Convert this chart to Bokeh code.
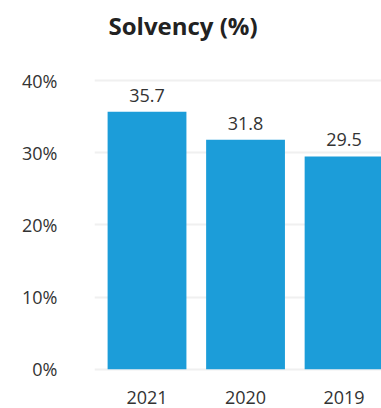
from bokeh.plotting import figure
from bokeh.models import Range1d, FixedTicker, ColumnDataSource, PrintfTickFormatter, LabelSet, Label
from bokeh.core.properties import value
from bokeh.embed import file_html
from bokeh.resources import INLINE

years = ["2021", "2020", "2019"]
solvency = [35.7, 31.8, 29.5]
y_ticks = [0, 10, 20, 30, 40]
title = "Solvency (%)"

FONT = "Open Sans"
TXT = "#333333"
BAR = "#1c9dd9"

idx = list(range(len(years)))
src = ColumnDataSource(dict(x=idx, y=solvency, lab=[f"{v:.1f}" for v in solvency]))

# frame extends to the top of the canvas so the title label (inside the frame) is not clipped
p = figure(width=381, height=408, output_backend="svg", toolbar_location=None,
           x_range=Range1d(-0.533, 2.38), y_range=Range1d(-0.3, 51.1),
           min_border_left=94, min_border_right=0, min_border_top=0, min_border_bottom=37)
p.outline_line_color = None
p.background_fill_color = "white"
p.border_fill_color = "white"

p.vbar(x="x", top="y", bottom=0, width=0.8, source=src, fill_color=BAR, line_color=None)
p.add_layout(LabelSet(x="x", y="y", text="lab", source=src, text_align="center",
                      text_baseline="alphabetic", y_offset=10, text_font=value(FONT),
                      text_font_size="18px", text_color=TXT))

p.add_layout(Label(x=14, x_units="screen", y=y_ticks[-1], y_offset=55, text=title,
                   text_font=FONT, text_font_size="24px", text_font_style="bold",
                   text_color="#222222", text_baseline="alphabetic", text_align="left"))

p.xaxis.ticker = FixedTicker(ticks=idx)
p.xaxis.major_label_overrides = {i: y for i, y in enumerate(years)}
p.yaxis.ticker = FixedTicker(ticks=y_ticks)
p.yaxis.formatter = PrintfTickFormatter(format="%d%%")

for ax in (p.xaxis[0], p.yaxis[0]):
    ax.axis_line_color = None
    ax.major_tick_line_color = None
    ax.minor_tick_line_color = None
    ax.major_tick_out = 0
    ax.major_tick_in = 0
    ax.major_label_text_font = FONT
    ax.major_label_text_font_size = "18px"
    ax.major_label_text_color = TXT
p.yaxis.major_label_standoff = 37
p.xaxis.major_label_standoff = 19

p.xgrid.grid_line_color = None
p.ygrid.grid_line_color = "#f0f0f0"
p.ygrid.grid_line_width = 2

open("out.html", "w").write(file_html(p, INLINE))
